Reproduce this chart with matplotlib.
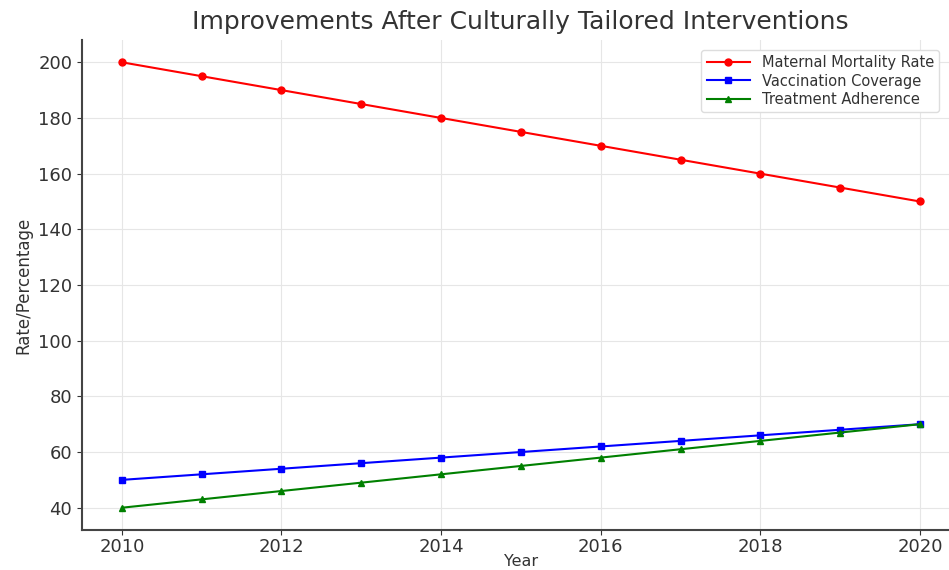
import matplotlib
matplotlib.use("Agg")
import matplotlib.pyplot as plt

years = [2010, 2011, 2012, 2013, 2014, 2015, 2016, 2017, 2018, 2019, 2020]
maternal_mortality = [200, 195, 190, 185, 180, 175, 170, 165, 160, 155, 150]
vaccination_coverage = [50, 52, 54, 56, 58, 60, 62, 64, 66, 68, 70]
treatment_adherence = [40, 43, 46, 49, 52, 55, 58, 61, 64, 67, 70]

fig = plt.figure(figsize=(9.49, 5.70), dpi=100)
ax = fig.add_axes([0.0864, 0.0702, 0.925, 0.8596])

ax.plot(years, maternal_mortality, color="red", marker="o", markersize=5,
        linewidth=1.5, label="Maternal Mortality Rate")
ax.plot(years, vaccination_coverage, color="blue", marker="s", markersize=5,
        linewidth=1.5, label="Vaccination Coverage")
ax.plot(years, treatment_adherence, color="green", marker="^", markersize=5,
        linewidth=1.5, label="Treatment Adherence")

ax.set_xticks([2010, 2012, 2014, 2016, 2018, 2020])
ax.set_yticks([40, 60, 80, 100, 120, 140, 160, 180, 200])
ax.tick_params(axis="both", labelsize=13, colors="#333333", labelcolor="#333333")
ax.tick_params(axis="x", pad=2)
ax.grid(True, color="#e6e6e6", linewidth=0.8)
ax.set_axisbelow(True)

for side in ("top", "right"):
    ax.spines[side].set_visible(False)
for side in ("left", "bottom"):
    ax.spines[side].set_color("#444444")
    ax.spines[side].set_linewidth(1.5)

ax.set_xlabel("Year", fontsize=11.5, color="#333333", labelpad=-1)
ax.set_ylabel("Rate/Percentage", fontsize=12, color="#333333", labelpad=4)
fig.suptitle("Improvements After Culturally Tailored Interventions",
             fontsize=18, color="#333333", x=0.548, y=0.982)

leg = ax.legend(loc="upper right", bbox_to_anchor=(0.985, 0.995), fontsize=10.5,
                frameon=True, framealpha=1.0, edgecolor="#dddddd",
                handlelength=3.0, borderpad=0.35, labelspacing=0.25)
for t in leg.get_texts():
    t.set_color("#333333")

fig.savefig("out.png", dpi=100)
